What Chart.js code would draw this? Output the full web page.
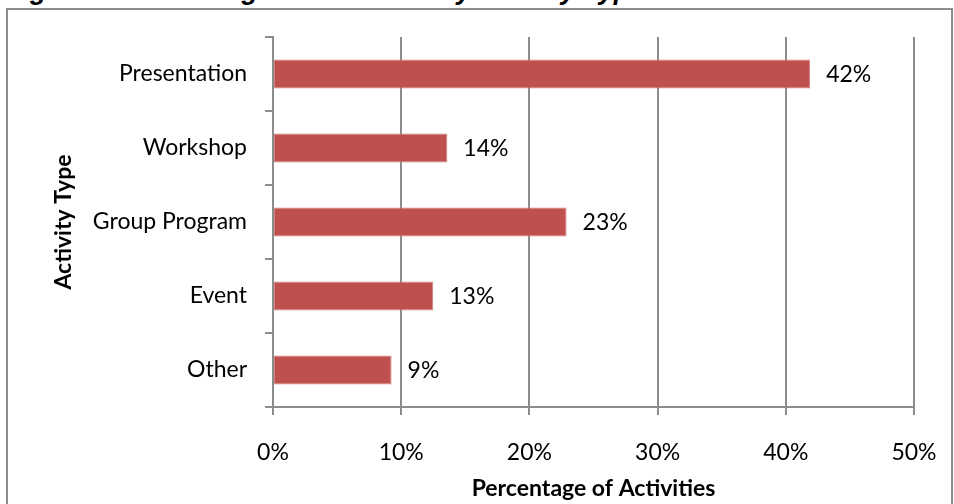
<!DOCTYPE html>
<html lang="en">
<head>
    <meta charset="UTF-8">
    <title>Percentage of Activities by Activity Type</title>
    <script src="https://cdn.jsdelivr.net/npm/chart.js"></script>
    <style>
        html, body {
            margin: 0;
            padding: 0;
            background: #fff;
            overflow: hidden;
        }
        .page {
            position: relative;
            width: 954px;
            height: 504px;
            overflow: hidden;
        }
        .fig-title {
            position: absolute;
            left: 6px;
            top: -24px;
            font-family: "Liberation Sans", Arial, sans-serif;
            font-weight: bold;
            font-style: italic;
            font-size: 27px;
            line-height: 28px;
            white-space: nowrap;
            color: #000;
        }
        .frame {
            position: absolute;
            left: 6px;
            top: 8px;
            width: 947px;
            height: 520px;
            border: 2px solid #8c8c8c;
            box-sizing: border-box;
        }
        canvas {
            position: absolute;
            left: 0;
            top: 0;
        }
    </style>
</head>
<body>
    <div class="page">
        <div class="fig-title">Figure 3: Percentage of Activities by Activity Type</div>
        <div class="frame"></div>
        <canvas id="barChart" width="954" height="504"></canvas>
    </div>

    <script>
        // chart data
        const categories = ['Presentation', 'Workshop', 'Group Program', 'Event', 'Other'];
        const percentages = [41.9, 13.6, 22.9, 12.5, 9.25];
        const xTicks = [0, 10, 20, 30, 40, 50];

        const fontFamily = 'Lato, "Liberation Sans", sans-serif';
        const gridGray = '#8c8c8c';

        // draws the "42%" style labels to the right of each bar
        const barLabels = {
            id: 'barLabels',
            afterDatasetsDraw(chart) {
                const ctx = chart.ctx;
                const meta = chart.getDatasetMeta(0);
                ctx.save();
                ctx.font = '23px ' + fontFamily;
                ctx.fillStyle = '#000';
                ctx.textAlign = 'left';
                ctx.textBaseline = 'middle';
                meta.data.forEach((bar, i) => {
                    ctx.fillText(Math.round(percentages[i]) + '%', bar.x + 16, bar.y + 1);
                });
                ctx.restore();
            }
        };

        const ctx = document.getElementById('barChart').getContext('2d');
        new Chart(ctx, {
            type: 'bar',
            data: {
                labels: categories,
                datasets: [{
                    data: percentages,
                    backgroundColor: '#C0504D',
                    borderColor: '#D27F7D',
                    borderWidth: 1,
                    borderSkipped: false,
                    categoryPercentage: 1.0,
                    barPercentage: 0.39
                }]
            },
            options: {
                indexAxis: 'y',
                responsive: false,
                animation: false,
                devicePixelRatio: 1,
                layout: {
                    padding: { left: 8, top: 37, right: 40, bottom: 0 }
                },
                plugins: {
                    legend: { display: false },
                    tooltip: { enabled: false }
                },
                scales: {
                    x: {
                        min: 0,
                        max: 50,
                        afterBuildTicks(axis) {
                            axis.ticks = xTicks.map(v => ({ value: v }));
                        },
                        afterFit(axis) {
                            axis.height = 97;
                            axis.paddingLeft = 0;
                            axis.paddingRight = 0;
                        },
                        ticks: {
                            callback: v => v + '%',
                            color: '#000',
                            padding: 24,
                            font: { family: fontFamily, size: 23 }
                        },
                        grid: {
                            color: gridGray,
                            lineWidth: 2,
                            tickLength: 8
                        },
                        border: { color: gridGray, width: 2 },
                        title: {
                            display: true,
                            text: 'Percentage of Activities',
                            color: '#000',
                            padding: { top: 4, bottom: 2 },
                            font: { family: fontFamily, size: 23, weight: 'bold' }
                        }
                    },
                    y: {
                        afterFit(axis) {
                            axis.width = 265;
                        },
                        ticks: {
                            color: '#000',
                            padding: 18,
                            font: { family: fontFamily, size: 23 }
                        },
                        grid: {
                            offset: true,
                            color: gridGray,
                            lineWidth: 2,
                            drawOnChartArea: false,
                            tickLength: 8
                        },
                        border: { color: gridGray, width: 2 },
                        title: {
                            display: true,
                            text: 'Activity Type',
                            color: '#000',
                            padding: { top: 42, bottom: 0 },
                            font: { family: fontFamily, size: 23, weight: 'bold' }
                        }
                    }
                }
            },
            plugins: [barLabels]
        });
    </script>
</body>
</html>
